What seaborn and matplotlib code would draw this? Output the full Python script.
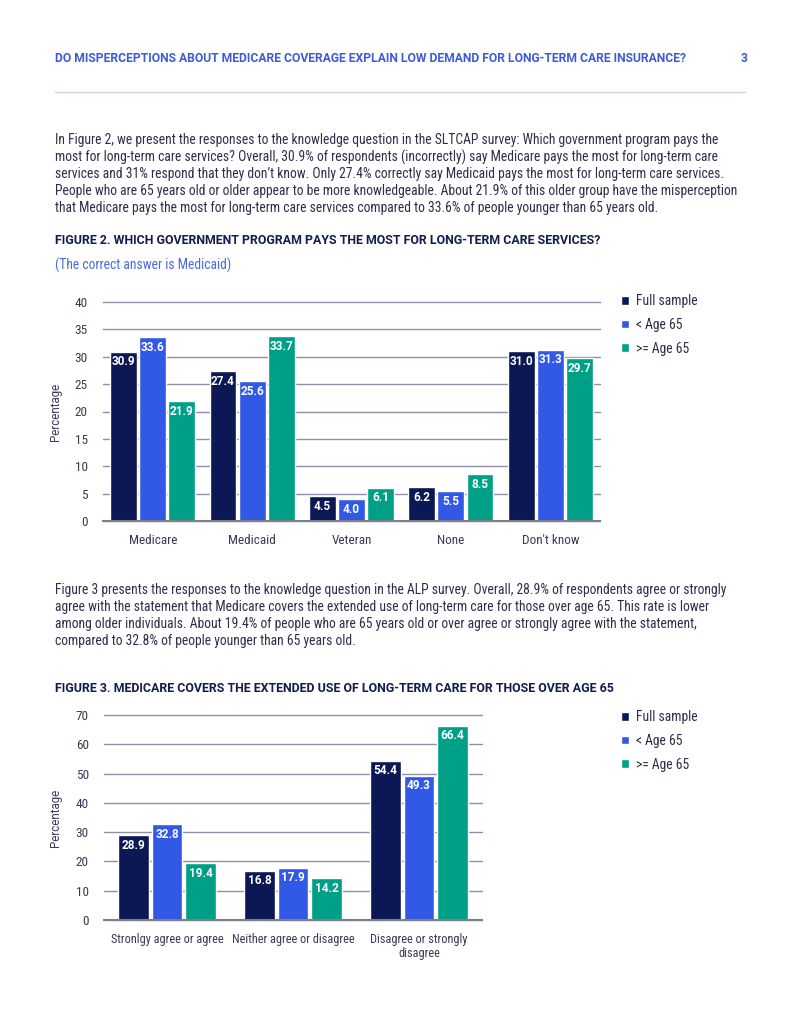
import matplotlib
matplotlib.use("Agg")
import matplotlib.pyplot as plt
import pandas as pd
import seaborn as sns

# ---- data ----
groups = ["Full sample", "< Age 65", ">= Age 65"]
colors = ["#0b1854", "#3159e6", "#00a087"]

fig2_cats = ["Medicare", "Medicaid", "Veteran", "None", "Don't know"]
fig2_full = [30.9, 27.4, 4.5, 6.2, 31.0]
fig2_young = [33.6, 25.6, 4.0, 5.5, 31.3]
fig2_old = [21.9, 33.7, 6.1, 8.5, 29.7]

fig3_cats = ["Stronlgy agree or agree", "Neither agree or disagree",
             "Disagree or strongly\ndisagree"]
fig3_full = [28.9, 16.8, 54.4]
fig3_young = [32.8, 17.9, 49.3]
fig3_old = [19.4, 14.2, 66.4]

header = ("DO MISPERCEPTIONS ABOUT MEDICARE COVERAGE EXPLAIN LOW DEMAND "
          "FOR LONG-TERM CARE INSURANCE?")
para1 = [
    "In Figure 2, we present the responses to the knowledge question in the SLTCAP survey: Which government program pays the",
    "most for long-term care services? Overall, 30.9% of respondents (incorrectly) say Medicare pays the most for long-term care",
    "services and 31% respond that they don\u2019t know. Only 27.4% correctly say Medicaid pays the most for long-term care services.",
    "People who are 65 years old or older appear to be more knowledgeable. About 21.9% of this older group have the misperception",
    "that Medicare pays the most for long-term care services compared to 33.6% of people younger than 65 years old.",
]
para2 = [
    "Figure 3 presents the responses to the knowledge question in the ALP survey. Overall, 28.9% of respondents agree or strongly",
    "agree with the statement that Medicare covers the extended use of long-term care for those over age 65. This rate is lower",
    "among older individuals. About 19.4% of people who are 65 years old or over agree or strongly agree with the statement,",
    "compared to 32.8% of people younger than 65 years old.",
]
title2 = "FIGURE 2. WHICH GOVERNMENT PROGRAM PAYS THE MOST FOR LONG-TERM CARE SERVICES?"
sub2 = "(The correct answer is Medicaid)"
title3 = "FIGURE 3. MEDICARE COVERS THE EXTENDED USE OF LONG-TERM CARE FOR THOSE OVER AGE 65"


def long_df(cats, a, b, c):
    rows = []
    for vals, g in zip([a, b, c], groups):
        for cat, v in zip(cats, vals):
            rows.append({"cat": cat, "group": g, "value": v})
    return pd.DataFrame(rows)


sns.set_theme(style="white")
plt.rcParams["font.family"] = ["Roboto Condensed", "Roboto", "DejaVu Sans"]
wide = ["Roboto", "DejaVu Sans"]

W, H = 800, 1035
fig = plt.figure(figsize=(W / 100, H / 100), dpi=100)


def put(x, y, s, **kw):
    kw.setdefault("va", "center")
    fig.text(x / W, 1 - y / H, s, **kw)


body_c = "#2b3048"
navy = "#131d4f"

# header
put(55, 58, header, fontsize=8.7, fontweight="bold", color="#3b5bd8", family=wide)
put(741, 58, "3", fontsize=8.7, fontweight="bold", color="#3b5bd8", family=wide)
fig.add_artist(plt.Line2D([55 / W, 745 / W], [1 - 92 / H, 1 - 92 / H],
                          color="#c9d2ea", lw=1))

for i, line in enumerate(para1):
    put(55, 140 + 17 * i, line, fontsize=9.8, color=body_c)
put(55, 241, title2, fontsize=8.9, fontweight="bold", color=navy, family=wide)
put(55, 265, sub2, fontsize=9.8, color="#4b6ae0")

for i, line in enumerate(para2):
    put(55, 590 + 17 * i, line, fontsize=9.8, color=body_c)
put(55, 688, title3, fontsize=8.9, fontweight="bold", color=navy, family=wide)


def draw(ax, df, order, ymax, step, width, gap, ylab_x, leg_y, xsize):
    sns.barplot(data=df, x="cat", y="value", hue="group", order=order,
                hue_order=groups, palette=colors, width=width, gap=gap,
                saturation=1, ax=ax)
    ax.set_ylim(0, ymax)
    ax.set_yticks(range(0, ymax + 1, step))
    ax.set_xlim(-0.5, len(order) - 0.5)
    ax.grid(axis="y", color="#8d8fab", lw=1)
    ax.set_axisbelow(True)
    for g in ax.get_ygridlines():
        g.set_clip_on(False)
    for s in ["top", "right", "left"]:
        ax.spines[s].set_visible(False)
    ax.spines["bottom"].set_color("#7d7f8f")
    ax.spines["bottom"].set_linewidth(1.5)
    ax.tick_params(axis="y", length=0, pad=11, labelsize=9.5, labelcolor="#363b52")
    ax.tick_params(axis="x", length=0, pad=9, labelsize=xsize, labelcolor="#363b52")
    ax.set_xlabel("")
    ax.set_ylabel("Percentage", fontsize=8.3, color="#363b52", family=wide)
    ax.yaxis.set_label_coords(ylab_x, 0.5)
    for cont in ax.containers:
        ax.bar_label(cont, fmt="%.1f", padding=-12, color="white",
                     fontsize=8.5, fontweight="bold", family=wide)
    sns.move_legend(ax, "upper left", bbox_to_anchor=(621 / W, 1 - leg_y / H),
                    bbox_transform=fig.transFigure, frameon=False, title=None,
                    fontsize=9.8, borderpad=0, borderaxespad=0,
                    handlelength=0.6, handleheight=0.6, handletextpad=0.5,
                    labelspacing=0.72)
    for t in ax.get_legend().get_texts():
        t.set_color(body_c)


ax1 = fig.add_axes([103 / W, 1 - 521 / H, 497 / W, 219 / H])
draw(ax1, long_df(fig2_cats, fig2_full, fig2_young, fig2_old), fig2_cats,
     40, 5, 0.88, 0.08, -0.083, 294, 9.5)

ax2 = fig.add_axes([104 / W, 1 - 920 / H, 378 / W, 205 / H])
draw(ax2, long_df(fig3_cats, fig3_full, fig3_young, fig3_old), fig3_cats,
     70, 10, 0.8, 0.08, -0.111, 710, 8.8)

fig.savefig("out.png", dpi=100)
